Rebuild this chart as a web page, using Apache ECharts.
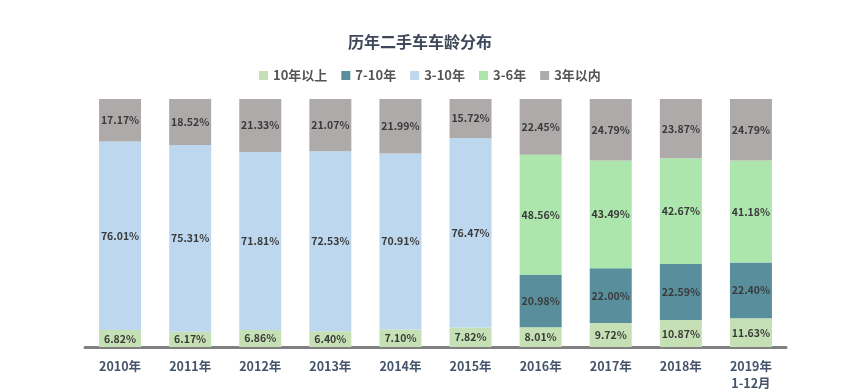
<!DOCTYPE html>
<html><head><meta charset="utf-8">
<script src="https://cdn.jsdelivr.net/npm/echarts@6/dist/echarts.min.js"></script>
<style>html,body{margin:0;padding:0;background:#fff}#c{width:858px;height:392px}</style>
</head><body><div id="c"></div>
<script>
const categories = ['2010年','2011年','2012年','2013年','2014年','2015年','2016年','2017年','2018年','2019年\n1-12月'];
const over10 = [6.82,6.17,6.86,6.40,7.10,7.82,8.01,9.72,10.87,11.63];
const y7to10 = [null,null,null,null,null,null,20.98,22.00,22.59,22.40];
const y3to10 = [76.01,75.31,71.81,72.53,70.91,76.47,null,null,null,null];
const y3to6 = [null,null,null,null,null,null,48.56,43.49,42.67,41.18];
const within3 = [17.17,18.52,21.33,21.07,21.99,15.72,22.45,24.79,23.87,24.79];

const font = '"Noto Sans CJK SC", "Noto Sans", sans-serif';
function mk(name, data, color){
  return {name, type:'bar', stack:'s', data, barWidth:42,
    itemStyle:{color},
    label:{show:true, position:'inside', formatter:p=>p.value==null?'':p.value.toFixed(2)+'%',
      color:'#3a3a3a', fontWeight:'bold', fontSize:10.5, fontFamily:font}};
}
const chart = echarts.init(document.getElementById('c'));
chart.setOption({
  animation:false,
  title:{text:'历年二手车车龄分布', left:343, top:29,
    textStyle:{fontSize:16, fontWeight:'bold', color:'#3e4858', fontFamily:font}},
  legend:{top:64, left:254, itemWidth:9, itemHeight:9, itemGap:14, icon:'rect',
    textStyle:{fontSize:13, fontWeight:'bold', color:'#555', fontFamily:font}},
  grid:{left:85, right:72, top:99, bottom:45},
  xAxis:{type:'category', data:categories,
    axisLine:{lineStyle:{color:'#808080', width:3}},
    axisTick:{show:false},
    axisLabel:{color:'#44546a', fontSize:12.5, fontWeight:'bold', fontFamily:font, margin:11, lineHeight:17, interval:0}},
  yAxis:{type:'value', min:0, max:100, show:false},
  series:[
    mk('10年以上', over10, '#c5e0b4'),
    mk('7-10年', y7to10, '#598f9d'),
    mk('3-10年', y3to10, '#bdd7ee'),
    mk('3-6年', y3to6, '#ade6ad'),
    mk('3年以内', within3, '#aeaaaa')
  ]
});
</script></body></html>
